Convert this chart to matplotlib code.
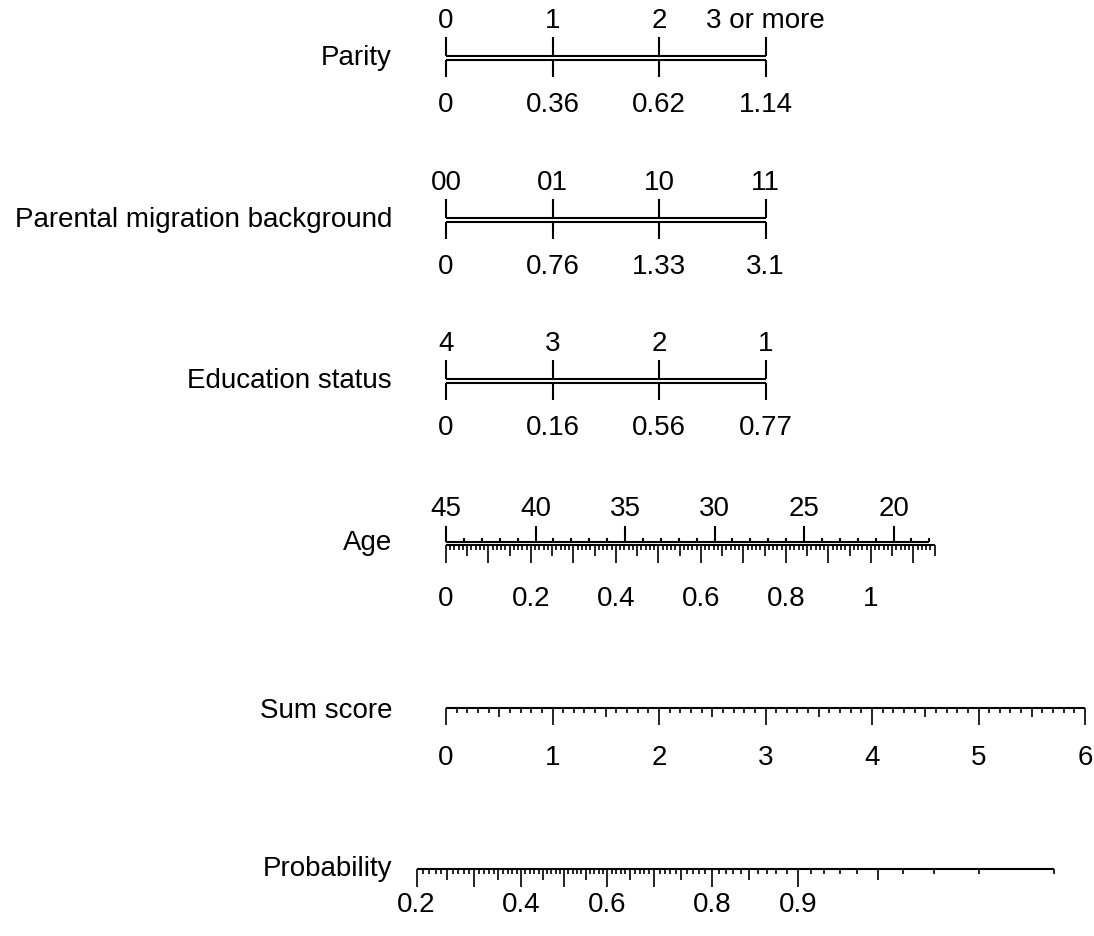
import numpy as np
import matplotlib
matplotlib.use("Agg")
import matplotlib.pyplot as plt

plt.rcParams['font.family'] = ['Liberation Sans', 'DejaVu Sans']

# ---------------- data ----------------
variables = ["Parity", "Parental migration background", "Education status", "Age",
             "Sum score", "Probability"]
parity_levels = ["0", "1", "2", "3 or more"]
parity_points = ["0", "0.36", "0.62", "1.14"]
migration_levels = ["00", "01", "10", "11"]
migration_points = ["0", "0.76", "1.33", "3.1"]
education_levels = ["4", "3", "2", "1"]
education_points = ["0", "0.16", "0.56", "0.77"]
age_labels = [45, 40, 35, 30, 25, 20]
age_range = [45, 18]
age_point_labels = [0, 0.2, 0.4, 0.6, 0.8, 1]
age_point_max = 1.15
sum_labels = [0, 1, 2, 3, 4, 5, 6]
prob_labels = [0.2, 0.4, 0.6, 0.8, 0.9]
prob_range = [0.20, 0.99]
prob_intercept = -1.11

# ---------------- scales (sum-score units) ----------------
AGE_PER_YEAR = 0.1681
AGE_PER_POINT = 3.99
def age_x(a):
    return (45 - np.asarray(a, float)) * AGE_PER_YEAR
def agept_x(p):
    return np.asarray(p, float) * AGE_PER_POINT
def prob_x(p):
    p = np.asarray(p, float)
    return np.log(p / (1 - p)) - prob_intercept

W, H = 1094, 936
PX = 106.5            # pixels per sum-score unit
X0 = 446              # pixel of score 0
fig = plt.figure(figsize=(W / 100, H / 100), dpi=100)
ax = fig.add_axes([0, 0, 1, 1])
ax.set_xlim(-X0 / PX, (W - X0) / PX)
ax.set_ylim(H, 0)
ax.axis('off')

FS = 20
LW = 1.5
GAP = 1.7
NAME_X = (392 - X0) / PX

def name(text, y):
    ax.text(NAME_X, y, text, ha='right', va='center', fontsize=FS)

def categorical(y, levels, points, label):
    xs = np.arange(len(levels))
    ax.plot([xs[0], xs[-1]], [y - GAP, y - GAP], color='black', lw=LW, solid_capstyle='butt')
    ax.plot([xs[0], xs[-1]], [y + GAP, y + GAP], color='black', lw=LW, solid_capstyle='butt')
    ax.vlines(xs, y - GAP - 19, y - GAP, color='black', lw=LW)
    ax.vlines(xs, y + GAP, y + GAP + 17, color='black', lw=LW)
    for x, t in zip(xs, levels):
        ax.text(x, y - 37, t, ha='center', va='center', fontsize=FS)
    for x, t in zip(xs, points):
        ax.text(x, y + 47, t, ha='center', va='center', fontsize=FS)
    name(label, y)

categorical(58, parity_levels, parity_points, variables[0])
categorical(220, migration_levels, migration_points, variables[1])
categorical(381, education_levels, education_points, variables[2])

# ---- Age ----
y = 543.5
xa0, xa1 = age_x(age_range[0]), age_x(age_range[1])
ax.plot([xa0, xa1], [y - GAP, y - GAP], color='black', lw=LW, solid_capstyle='butt')
years = np.arange(age_range[0], age_range[1] - 1, -1)
minor_years = [a for a in years if a % 5 != 0]
ax.vlines(age_x(minor_years), y - GAP - 4, y - GAP, color='black', lw=LW)
ax.vlines(age_x(age_labels), y - GAP - 16, y - GAP, color='black', lw=LW)
for a in age_labels:
    ax.text(age_x(a), y - 34, str(a), ha='center', va='center', fontsize=FS)
xp1 = agept_x(age_point_max)
ax.plot([0, xp1], [y + GAP, y + GAP], color='black', lw=LW, solid_capstyle='butt')
hund = np.arange(0, int(round(age_point_max * 100)) + 1)
for h in hund:
    if h % 10 == 0:
        ln = 18
    elif h % 5 == 0:
        ln = 11
    else:
        ln = 4.5
    ax.vlines(agept_x(h / 100), y + GAP, y + GAP + ln, color='black', lw=1.2)
for p in age_point_labels:
    ax.text(agept_x(p), y + 56, f"{p:g}", ha='center', va='center', fontsize=FS)
name(variables[3], y)

# ---- Sum score ----
y = 708
ax.plot([sum_labels[0], sum_labels[-1]], [y, y], color='black', lw=LW, solid_capstyle='butt')
for t in range(0, 61):
    if t % 10 == 0:
        ln = 17
    elif t % 5 == 0:
        ln = 9
    else:
        ln = 4.5
    ax.vlines(t / 10, y, y + ln, color='black', lw=1.2)
for s in sum_labels:
    ax.text(s, y + 50, str(s), ha='center', va='center', fontsize=FS)
name(variables[4], y + 3)

# ---- Probability ----
y = 869
ax.plot([prob_x(prob_range[0]), prob_x(prob_range[1])], [y, y], color='black', lw=LW,
        solid_capstyle='butt')
for h in range(int(round(prob_range[0] * 100)), int(round(prob_range[1] * 100)) + 1):
    if h % 10 == 0 and h <= 90:
        ln = 18
    elif h % 5 == 0:
        ln = 11
    else:
        ln = 5
    ax.vlines(prob_x(h / 100), y, y + ln, color='black', lw=1.2)
for p in prob_labels:
    ax.text(prob_x(p), y + 36, f"{p:g}", ha='center', va='center', fontsize=FS)
name(variables[5], y)

fig.savefig("out.png", dpi=100)
